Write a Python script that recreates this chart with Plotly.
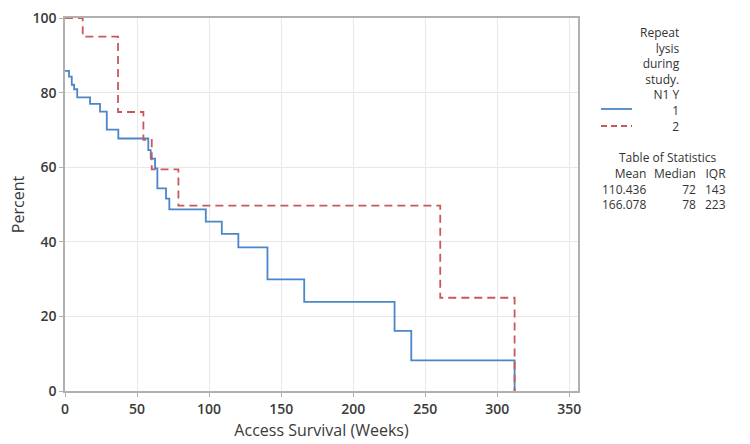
import plotly.graph_objects as go

# Kaplan-Meier step data (weeks, percent surviving)
blue_weeks = [0, 2.8, 4.7, 6.3, 8.5, 17.4, 24.3, 29, 37, 57.8, 59.5, 62.5, 64.1, 70.1, 72.4,
              97.7, 108.8, 120.3, 140.5, 166, 228.7, 240.3, 312]
blue_pct = [85.8, 84.3, 82.1, 80.9, 78.7, 77.0, 74.9, 70.1, 67.7, 64.6, 62.3, 59.7, 54.3, 51.6, 48.7,
            45.4, 42.1, 38.5, 29.9, 23.9, 16.1, 8.2, 0]
red_weeks = [0, 12.3, 36.8, 54.4, 60.2, 78.7, 260.4, 312]
red_pct = [100, 95, 74.8, 67.3, 59.4, 49.7, 25.0, 0]

legend_title_lines = ["Repeat", "lysis", "during", "study.", "N1 Y"]
group_labels = ["1", "2"]
stat_headers = ["Mean", "Median", "IQR"]
stat_means = ["110.436", "166.078"]
stat_medians = ["72", "78"]
stat_iqrs = ["143", "223"]

x_ticks = [0, 50, 100, 150, 200, 250, 300, 350]
y_ticks = [0, 20, 40, 60, 80, 100]

BLUE = "#4a86c8"
RED = "#c8585a"
FONT = "Open Sans"
TXT = "#333333"

fig = go.Figure()
fig.add_trace(go.Scatter(x=blue_weeks, y=blue_pct, mode="lines", line_shape="hv",
                         line=dict(color=BLUE, width=1.8), name=group_labels[0],
                         showlegend=False))
fig.add_trace(go.Scatter(x=red_weeks, y=red_pct, mode="lines", line_shape="hv",
                         line=dict(color=RED, width=1.8, dash="8px,5px"), name=group_labels[1],
                         showlegend=False))

L, R, T, B = 65, 578, 18, 391
W, H = 750, 444
def px(xp):
    return (xp - L) / (R - L)
def py(yp):
    return (B - yp) / (B - T)

tickfont = dict(size=14, color="#3a3a3a", family=FONT, weight=600)
fig.update_layout(
    width=W, height=H,
    margin=dict(l=L, r=W - R, t=T, b=H - B, autoexpand=False),
    paper_bgcolor="white", plot_bgcolor="white",
    font=dict(family=FONT, color=TXT, size=12),
    xaxis=dict(range=[0, 356], tickvals=x_ticks, showgrid=True, gridcolor="#e8e8e8",
               zeroline=False, showline=True, linecolor="#b0b0b0", linewidth=1.5, mirror=True,
               ticks="outside", ticklen=4, tickcolor="#b0b0b0", tickfont=tickfont,
               automargin=False,
               title=dict(text="Access Survival (Weeks)", font=dict(size=16, color="#3a3a3a"),
                          standoff=8)),
    yaxis=dict(range=[0, 100], tickvals=y_ticks, showgrid=True, gridcolor="#e8e8e8",
               zeroline=False, showline=True, linecolor="#b0b0b0", linewidth=1.5, mirror=True,
               ticks="outside", ticklen=4, tickcolor="#b0b0b0", tickfont=tickfont,
               automargin=False,
               title=dict(text="Percent", font=dict(size=16, color="#3a3a3a"), standoff=4)),
)

ann = []
legend_text = "<br>".join(legend_title_lines + group_labels)
ann.append(dict(xref="paper", yref="paper", x=px(682), y=py(79), xanchor="right",
                yanchor="middle", align="right", showarrow=False, text=legend_text,
                font=dict(size=12)))
# legend line samples
for col, dash, yy in [(BLUE, "solid", 109), (RED, "6px,4px", 126)]:
    fig.add_shape(type="line", xref="paper", yref="paper", x0=px(601), x1=px(632),
                  y0=py(yy), y1=py(yy), line=dict(color=col, width=1.8, dash=dash))

ann.append(dict(xref="paper", yref="paper", x=px(667), y=py(157), xanchor="center",
                yanchor="middle", showarrow=False, text="Table of Statistics", font=dict(size=12)))
columns = [[stat_headers[0]] + stat_means,
           [stat_headers[1]] + stat_medians,
           [stat_headers[2]] + stat_iqrs]
col_right = [648, 698, 728]
for col, cx in zip(columns, col_right):
    ann.append(dict(xref="paper", yref="paper", x=px(cx), y=py(188.5), xanchor="right",
                    yanchor="middle", align="right", showarrow=False, text="<br>".join(col),
                    font=dict(size=12)))
fig.update_layout(annotations=ann)

fig.write_html("out.html")
